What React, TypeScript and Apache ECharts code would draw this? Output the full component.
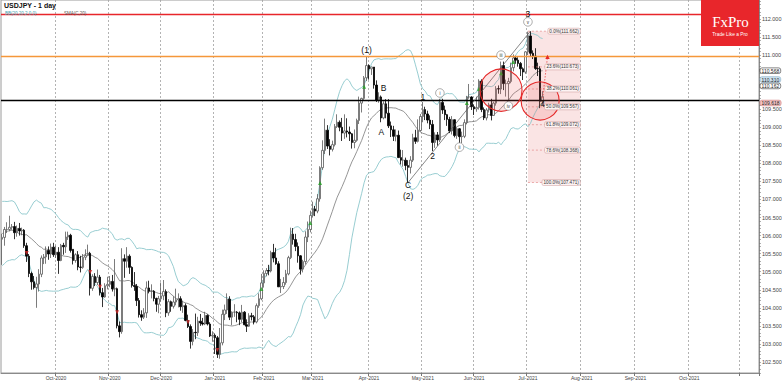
import React, { useEffect, useRef } from "react";
import * as echarts from "echarts";

// Daily bars: [open, high, low, close]
type Bar = [number, number, number, number];

const sep2020: Bar[] = [
  [105.9, 106.05, 105.19, 105.95], [105.95, 106.24, 105.72, 106.17], [106.17, 106.37, 106.07, 106.17],
  [106.17, 106.55, 106.12, 106.23], [106.23, 106.32, 106.16, 106.25], [106.25, 106.38, 105.9, 106.08],
  [106.08, 106.28, 105.97, 106.2], [106.2, 106.35, 106.0, 106.13], [106.13, 106.22, 106.01, 106.15],
  [106.15, 106.18, 105.66, 105.72], [105.72, 105.8, 105.27, 105.43], [105.43, 105.49, 104.85, 104.95],
  [104.95, 105.0, 104.5, 104.72], [104.72, 104.88, 104.51, 104.56], [104.56, 104.86, 104.0, 104.66],
  [104.66, 105.07, 104.45, 104.93], [104.93, 105.45, 104.85, 105.38], [105.38, 105.49, 105.21, 105.41],
  [105.41, 105.7, 105.22, 105.59], [105.59, 105.7, 105.33, 105.49], [105.49, 105.78, 105.38, 105.68],
  [105.68, 105.8, 105.41, 105.47],
];
const oct2020: Bar[] = [
  [105.47, 105.72, 105.38, 105.54], [105.54, 105.68, 104.94, 105.31], [105.31, 105.77, 105.29, 105.73],
  [105.73, 105.8, 105.47, 105.69], [105.69, 106.11, 105.52, 105.96], [105.96, 106.11, 105.88, 106.01],
  [106.01, 106.05, 105.53, 105.59], [105.62, 105.62, 105.2, 105.31], [105.31, 105.51, 105.25, 105.47],
  [105.47, 105.57, 105.04, 105.13], [105.13, 105.44, 104.98, 105.12], [105.12, 105.49, 105.08, 105.4],
  [105.4, 105.62, 105.32, 105.45], [105.45, 105.75, 105.43, 105.51], [105.51, 105.55, 104.34, 104.54],
  [104.54, 104.93, 104.47, 104.87], [104.87, 104.96, 104.6, 104.7], [104.7, 105.06, 104.63, 104.85],
  [104.85, 104.91, 104.34, 104.42], [104.42, 104.55, 104.02, 104.3], [104.3, 104.68, 104.28, 104.61],
  [104.61, 104.86, 104.51, 104.65],
];
const nov2020: Bar[] = [
  [104.65, 104.88, 104.57, 104.73], [104.73, 104.91, 104.45, 104.52], [104.52, 105.35, 104.32, 104.53],
  [104.53, 104.56, 103.43, 103.5], [103.5, 103.62, 103.18, 103.34], [103.34, 105.65, 103.28, 105.36],
  [105.36, 105.48, 104.83, 105.29], [105.29, 105.68, 105.11, 105.43], [105.43, 105.48, 104.94, 105.12],
  [105.12, 105.15, 104.56, 104.62], [104.62, 104.99, 104.47, 104.59], [104.59, 104.66, 104.05, 104.2],
  [104.2, 104.27, 103.73, 103.81], [103.81, 103.93, 103.64, 103.74], [103.74, 103.99, 103.69, 103.86],
  [103.86, 104.73, 103.72, 104.55], [104.55, 104.75, 104.4, 104.46], [104.46, 104.65, 104.26, 104.46],
  [104.46, 104.49, 104.18, 104.26], [104.26, 104.28, 103.89, 104.1], [104.1, 104.33, 103.85, 104.25],
];
const dec2020: Bar[] = [
  [104.25, 104.7, 104.17, 104.33], [104.33, 104.77, 104.21, 104.45], [104.45, 104.51, 103.74, 103.86],
  [103.86, 104.24, 103.78, 104.17], [104.17, 104.2, 103.89, 104.04], [104.04, 104.32, 103.98, 104.16],
  [104.16, 104.53, 104.07, 104.22], [104.22, 104.4, 104.01, 104.25], [104.25, 104.32, 103.92, 104.03],
  [104.03, 104.2, 103.86, 104.06], [104.06, 104.12, 103.63, 103.65], [103.65, 103.81, 103.44, 103.48],
  [103.48, 103.54, 102.87, 103.07], [103.07, 103.41, 102.96, 103.32], [103.32, 103.84, 103.13, 103.31],
  [103.31, 103.75, 103.22, 103.63], [103.63, 103.83, 103.5, 103.58], [103.58, 103.72, 103.51, 103.55],
  [103.55, 103.89, 103.52, 103.79], [103.79, 103.82, 103.51, 103.55], [103.55, 103.6, 103.19, 103.22],
  [103.22, 103.35, 103.06, 103.24],
];
const jan2021: Bar[] = [
  [103.24, 103.29, 102.72, 103.17], [103.17, 103.22, 102.61, 102.71], [102.71, 103.44, 102.59, 103.03],
  [103.03, 103.95, 102.96, 103.82], [103.82, 104.09, 103.66, 103.94], [103.94, 104.4, 103.83, 104.24],
  [104.24, 104.32, 103.66, 103.74], [103.74, 103.9, 103.52, 103.88], [103.88, 104.1, 103.75, 103.88],
  [103.88, 103.91, 103.6, 103.86], [103.86, 103.9, 103.52, 103.68], [103.68, 104.08, 103.6, 103.88],
  [103.88, 103.91, 103.52, 103.53], [103.53, 103.68, 103.33, 103.49], [103.49, 103.85, 103.47, 103.78],
  [103.78, 103.86, 103.65, 103.75], [103.75, 103.8, 103.54, 103.61], [103.61, 104.12, 103.57, 104.06],
  [104.06, 104.4, 104.0, 104.25], [104.25, 104.94, 104.21, 104.69],
];
const feb2021: Bar[] = [
  [104.69, 105.04, 104.56, 104.95], [104.95, 105.1, 104.87, 105.03], [105.03, 105.19, 104.9, 105.02],
  [105.02, 105.58, 104.98, 105.53], [105.53, 105.77, 105.26, 105.38], [105.38, 105.66, 105.19, 105.22],
  [105.22, 105.29, 104.59, 104.58], [104.58, 104.8, 104.41, 104.59], [104.59, 104.85, 104.52, 104.7],
  [104.7, 105.05, 104.64, 104.94], [104.94, 105.44, 104.9, 105.39], [105.39, 106.22, 105.35, 106.04],
  [106.04, 106.21, 105.75, 105.89], [105.89, 106.05, 105.57, 105.7], [105.7, 105.81, 105.25, 105.44],
  [105.44, 105.46, 104.92, 105.07], [105.07, 105.33, 104.98, 105.28], [105.28, 106.12, 105.2, 105.96],
  [105.96, 106.39, 105.82, 106.17], [106.17, 106.69, 106.09, 106.56],
];
const mar2021: Bar[] = [
  [106.56, 106.94, 106.5, 106.74], [106.74, 106.82, 106.54, 106.68], [106.68, 107.15, 106.62, 107.02],
  [107.02, 107.92, 106.94, 107.88], [107.88, 108.64, 107.82, 108.36], [108.36, 109.24, 108.26, 108.92],
  [108.92, 109.06, 108.4, 108.48], [108.48, 108.67, 108.22, 108.39], [108.39, 108.63, 108.33, 108.52],
  [108.52, 109.09, 108.47, 109.02], [109.02, 109.36, 108.98, 109.14], [109.14, 109.19, 108.89, 109.0],
  [109.0, 109.26, 108.62, 108.84], [108.84, 109.36, 108.68, 108.9], [108.9, 109.25, 108.72, 108.87],
  [108.87, 109.02, 108.62, 108.82], [108.82, 108.84, 108.41, 108.58], [108.58, 108.94, 108.42, 108.64],
  [108.64, 109.24, 108.6, 109.19], [109.19, 109.85, 109.09, 109.67], [109.67, 109.82, 109.41, 109.8],
  [109.8, 110.42, 109.76, 110.37], [110.37, 110.97, 110.28, 110.71],
];
const apr2021: Bar[] = [
  [110.71, 110.74, 110.32, 110.62], [110.62, 110.68, 110.45, 110.67], [110.67, 110.67, 110.07, 110.17],
  [110.17, 110.3, 109.7, 109.75], [109.75, 109.97, 109.68, 109.84], [109.84, 109.88, 109.14, 109.26],
  [109.26, 109.72, 109.22, 109.65], [109.65, 109.78, 109.25, 109.39], [109.39, 109.78, 108.98, 109.04],
  [109.04, 109.16, 108.73, 108.93], [108.93, 109.04, 108.62, 108.75], [108.75, 108.94, 108.61, 108.78],
  [108.78, 108.91, 108.15, 108.16], [108.16, 108.38, 107.97, 108.09], [108.09, 108.37, 107.91, 108.09],
  [108.09, 108.16, 107.81, 107.94], [107.94, 108.09, 107.48, 107.89], [107.89, 108.2, 107.72, 108.09],
  [108.09, 108.82, 108.04, 108.71], [108.71, 108.93, 108.54, 108.61], [108.61, 109.22, 108.58, 108.91],
  [108.91, 109.37, 108.88, 109.3],
];
const may2021: Bar[] = [
  [109.3, 109.7, 109.14, 109.49], [109.49, 109.57, 109.2, 109.37], [109.37, 109.46, 109.11, 109.2],
  [109.2, 109.33, 108.95, 109.08], [109.08, 109.2, 108.34, 108.58], [108.58, 108.86, 108.43, 108.79],
  [108.79, 108.87, 108.49, 108.65], [108.65, 109.79, 108.59, 109.69], [109.69, 109.79, 109.37, 109.48],
  [109.48, 109.6, 109.2, 109.35], [109.35, 109.37, 109.04, 109.22], [109.22, 109.29, 108.84, 108.9],
  [108.9, 109.31, 108.8, 109.21], [109.21, 109.22, 108.72, 108.77], [108.77, 109.0, 108.68, 108.96],
  [108.96, 108.98, 108.56, 108.74], [108.74, 108.88, 108.56, 108.75], [108.75, 109.22, 108.7, 109.13],
  [109.13, 109.87, 109.08, 109.84], [109.84, 110.2, 109.79, 109.84], [109.84, 109.86, 109.48, 109.57],
];
const jun2021: Bar[] = [
  [109.57, 109.63, 109.34, 109.51], [109.51, 109.85, 109.43, 109.55], [109.55, 110.33, 109.49, 110.28],
  [110.28, 110.33, 109.42, 109.49], [109.49, 109.55, 109.2, 109.26], [109.26, 109.53, 109.19, 109.48],
  [109.48, 109.68, 109.41, 109.62], [109.62, 109.79, 109.19, 109.33], [109.33, 109.71, 109.32, 109.67],
  [109.67, 110.14, 109.6, 110.07], [110.07, 110.16, 109.93, 110.06], [110.06, 110.82, 109.92, 110.71],
  [110.71, 110.82, 110.03, 110.21], [110.21, 110.32, 109.85, 110.21], [110.21, 110.37, 109.72, 110.27],
  [110.27, 110.79, 110.22, 110.65], [110.65, 111.02, 110.55, 110.92], [110.92, 110.98, 110.76, 110.86],
  [110.86, 110.94, 110.68, 110.77], [110.77, 110.81, 110.42, 110.62], [110.62, 110.66, 110.31, 110.53],
  [110.53, 111.11, 110.48, 111.09],
];
const jul2021: Bar[] = [
  [111.09, 111.65, 111.0, 111.53], [111.53, 111.66, 110.97, 111.05], [111.05, 111.13, 110.89, 110.97],
  [110.97, 111.19, 110.59, 110.63], [110.63, 110.79, 110.42, 110.62], [110.62, 110.69, 109.53, 109.72],
  [109.72, 110.0, 109.6, 109.85],
];

// Closes before the first visible bar (Aug 2020), needed for the 20-day bands
const warmupCloses = [
  105.56, 105.54, 105.92, 105.94, 106.49, 106.91, 106.91, 106.6, 105.98, 105.39,
  106.12, 105.8, 105.81, 105.96, 106.38, 106.04, 106.58, 105.37, 105.9,
];

const START_DATE = "2020-09-01";
const CATEGORY_COUNT = 310;
const CLOSED_DAYS = ["2020-12-25", "2021-01-01"];
const MONTH_NAMES = ["Jan", "Feb", "Mar", "Apr", "May", "Jun", "Jul", "Aug", "Sep", "Oct", "Nov", "Dec"];
const LAST_LABELLED_MONTH = "2021-10";

// tick labels shown on the price axis (110.500 / 110.000 are hidden by the price tags)
const yLabelValues = [102.5, 103, 103.5, 104, 104.5, 105, 105.5, 106, 106.5, 107, 107.5, 108, 108.5, 109, 109.5, 111, 111.5, 112];
const Y_MIN = 102.194;
const Y_MAX = 112.526;

const RED_LEVEL = 112.12;
const ORANGE_LEVEL = 110.97;
const BLACK_LEVEL = 109.76;

const FIB_HIGH = 111.662;
const FIB_LOW = 107.471;
const fibLevels = [0, 23.6, 38.2, 50, 61.8, 78.6, 100];

const priceTags = [
  { value: 110.568, bg: "#ffffff", border: "#333333", shift: 0 },
  { value: 110.31, bg: "#cfe4f2", border: "#7fa9c4", shift: -0.5 },
  { value: 110.162, bg: "#ffffff", border: "#333333", shift: 0.6 },
  { value: 109.618, bg: "#f3c4c4", border: "#c77", shift: -2 },
];

const buySignals: [string, number][] = [
  ["2021-01-29", 104.52], ["2021-02-26", 106.35], ["2021-03-04", 107.46], ["2021-03-30", 110.12],
  ["2021-05-27", 109.67], ["2021-06-03", 110.06], ["2021-06-16", 110.5], ["2021-06-23", 110.81],
];
const sellSignals: [string, number][] = [
  ["2020-09-15", 105.52], ["2020-10-21", 104.99], ["2020-10-27", 104.58],
  ["2020-11-05", 103.88], ["2020-12-16", 103.6], ["2021-01-05", 102.83],
];

const waveLabels: { text: string; date: string; price: number }[] = [
  { text: "(1)", date: "2021-03-31", price: 111.14 },
  { text: "B", date: "2021-04-09", price: 110.1 },
  { text: "A", date: "2021-04-08", price: 108.88 },
  { text: "C", date: "2021-04-23", price: 107.4 },
  { text: "(2)", date: "2021-04-23", price: 107.1 },
  { text: "1", date: "2021-05-03", price: 109.84 },
  { text: "2", date: "2021-05-07", price: 108.2 },
  { text: "3", date: "2021-07-01", price: 112.13 },
  { text: "4", date: "2021-07-09", price: 109.65 },
];
const circledLabels: { text: string; date: string; price: number }[] = [
  { text: "i", date: "2021-05-12", price: 109.95 },
  { text: "ii", date: "2021-05-24", price: 108.45 },
  { text: "iii", date: "2021-06-16", price: 111.0 },
  { text: "iv", date: "2021-06-21", price: 109.59 },
  { text: "v", date: "2021-07-01", price: 111.92 },
];
const zoneCircles: { date: string; price: number; r: number }[] = [
  { date: "2021-06-16", price: 110.03, r: 21 },
  { date: "2021-07-08", price: 109.73, r: 19 },
];

const FONT = '"Liberation Sans", "DejaVu Sans", sans-serif';

const categories: string[] = (() => {
  const out: string[] = [];
  const d = new Date(START_DATE + "T00:00:00Z");
  while (out.length < CATEGORY_COUNT) {
    const wd = d.getUTCDay();
    const iso = d.toISOString().slice(0, 10);
    if (wd !== 0 && wd !== 6 && !CLOSED_DAYS.includes(iso)) out.push(iso);
    d.setUTCDate(d.getUTCDate() + 1);
  }
  return out;
})();

const isMonthStart = (i: number) => i > 0 && categories[i].slice(0, 7) !== categories[i - 1].slice(0, 7);
const isLabelledMonth = (i: number) => isMonthStart(i) && categories[i].slice(0, 7) <= LAST_LABELLED_MONTH;

const bars: Bar[] = [
  ...sep2020, ...oct2020, ...nov2020, ...dec2020, ...jan2021, ...feb2021,
  ...mar2021, ...apr2021, ...may2021, ...jun2021, ...jul2021,
];

function bands() {
  const closes = [...warmupCloses, ...bars.map((b) => b[3])];
  const mid: number[] = [], up: number[] = [], lo: number[] = [];
  const off = warmupCloses.length;
  for (let i = 0; i < bars.length; i++) {
    const win = closes.slice(i + off - 19, i + off + 1);
    const m = win.reduce((a, b) => a + b, 0) / win.length;
    const sd = Math.sqrt(win.reduce((a, b) => a + (b - m) * (b - m), 0) / win.length);
    mid.push(+m.toFixed(4));
    up.push(+(m + 2 * sd).toFixed(4));
    lo.push(+(m - 2 * sd).toFixed(4));
  }
  return { mid, up, lo };
}

function buildOption() {
  const { mid, up, lo } = bands();
  const minorTicks: number[] = [];
  for (let v = 1022; v <= 1125; v++) minorTicks.push(v / 10);
  return {
    animation: false,
    backgroundColor: "#ffffff",
    grid: { left: 1, right: 23, top: 0, bottom: 9, show: true, borderColor: "#9a9a9a", borderWidth: 1, containLabel: false, outerBoundsMode: "none" },
    xAxis: {
      type: "category",
      data: categories,
      boundaryGap: true,
      axisLine: { show: true, lineStyle: { color: "#8a8a8a", width: 1 } },
      axisTick: { show: true, interval: (i: number) => isMonthStart(i), length: 3, lineStyle: { color: "#777" } },
      axisLabel: {
        interval: (i: number) => isLabelledMonth(i),
        formatter: (v: string) => `${MONTH_NAMES[+v.slice(5, 7) - 1]}-${v.slice(0, 4)}`,
        fontSize: 5, color: "#444", margin: 2, fontFamily: FONT,
      },
      splitLine: { show: true, interval: (i: number) => isMonthStart(i), lineStyle: { color: "#a0a0a0", type: [2, 2], width: 0.8 } },
    },
    yAxis: {
      type: "value",
      position: "right",
      min: Y_MIN,
      max: Y_MAX,
      splitLine: { show: false },
      axisLine: { show: true, lineStyle: { color: "#8a8a8a" } },
      axisTick: { show: true, customValues: minorTicks, length: 2, lineStyle: { color: "#777", width: 0.6 } },
      axisLabel: {
        customValues: yLabelValues,
        formatter: (v: number) => v.toFixed(3),
        fontSize: 5.5, color: "#444", margin: 3, fontFamily: FONT,
      },
    },
    series: [
      { type: "line", data: up, showSymbol: false, symbol: "none", silent: true, lineStyle: { color: "#8cc7cc", width: 0.9 }, z: 1 },
      { type: "line", data: lo, showSymbol: false, symbol: "none", silent: true, lineStyle: { color: "#8cc7cc", width: 0.9 }, z: 1 },
      { type: "line", data: mid, showSymbol: false, symbol: "none", silent: true, lineStyle: { color: "#7a7a7a", width: 0.8 }, z: 1 },
      {
        type: "candlestick",
        data: bars.map(([o, h, l, c]) => [o, c, l, h]),
        barWidth: 2,
        itemStyle: { color: "#ffffff", color0: "#000000", borderColor: "#5a5a5a", borderColor0: "#000000", borderWidth: 0.8 },
        z: 3,
        markLine: {
          silent: true,
          symbol: ["none", "none"],
          label: { show: false },
          data: [
            { yAxis: RED_LEVEL, lineStyle: { color: "#e8262b", width: 1.4, type: "solid" } },
            { yAxis: ORANGE_LEVEL, lineStyle: { color: "#f5973a", width: 1.4, type: "solid" } },
            { yAxis: BLACK_LEVEL, lineStyle: { color: "#000000", width: 1.4, type: "solid" } },
          ],
        },
      },
      { type: "scatter", data: buySignals, symbol: "triangle", symbolSize: 4, itemStyle: { color: "#22a322" }, z: 4, silent: true },
      { type: "scatter", data: sellSignals, symbol: "triangle", symbolRotate: 180, symbolSize: 4, itemStyle: { color: "#d42a2a" }, z: 4, silent: true },
    ],
  };
}

const measureCtx = typeof document !== "undefined" ? document.createElement("canvas").getContext("2d") : null;
function measure(text: string, font: string) {
  if (!measureCtx) return text.length * 3;
  measureCtx.font = font;
  return measureCtx.measureText(text).width;
}

function buildGraphics(chart: any) {
  const els: any[] = [];
  const P = (date: string, price: number) =>
    chart.convertToPixel({ xAxisIndex: 0, yAxisIndex: 0 }, [categories.indexOf(date), price]) as number[];
  const txt = (t: string, x: number, y: number, font: string, fill: string, align = "center", valign = "middle", z = 60) => ({
    type: "text", x, y, z, silent: true,
    style: { text: t, font, fill, textAlign: align, textVerticalAlign: valign },
  });

  // Fibonacci retracement zone
  const xL = P("2021-07-01", FIB_HIGH)[0];
  const xR = P("2021-07-30", FIB_HIGH)[0] + 1;
  const yTop = P("2021-07-01", FIB_HIGH)[1];
  const yBot = P("2021-07-01", FIB_LOW)[1];
  els.push({ type: "rect", z: 0, silent: true, shape: { x: xL, y: yTop, width: xR - xL, height: yBot - yTop }, style: { fill: "rgba(232,120,120,0.2)" } });
  const fibFont = `4.6px ${FONT}`;
  fibLevels.forEach((pct) => {
    const price = FIB_HIGH - (pct / 100) * (FIB_HIGH - FIB_LOW);
    const y = P("2021-07-01", price)[1];
    els.push({ type: "line", z: 5, silent: true, shape: { x1: xL, y1: y, x2: xR, y2: y }, style: { stroke: "#e07a7a", lineWidth: 0.6, lineDash: [2, 2] } });
    const label = `${pct.toFixed(1)}%(${price.toFixed(3)})`;
    const w = measure(label, fibFont) + 3;
    els.push({ type: "rect", z: 55, silent: true, shape: { x: xR - w, y: y - 3, width: w, height: 6, r: 1.5 }, style: { fill: "#fdf3f3", stroke: "#c99", lineWidth: 0.5 } });
    els.push(txt(label, xR - 1.5, y, fibFont, "#333", "right", "middle", 56));
  });
  const a = P("2021-04-23", FIB_LOW);
  const b = P("2021-07-02", FIB_HIGH);
  els.push({ type: "line", z: 5, silent: true, shape: { x1: a[0], y1: a[1], x2: b[0], y2: b[1] }, style: { stroke: "#555", lineWidth: 0.7 } });

  // highlighted zones
  zoneCircles.forEach((c) => {
    const p = P(c.date, c.price);
    els.push({ type: "circle", z: 6, silent: true, shape: { cx: p[0], cy: p[1], r: c.r }, style: { fill: "rgba(240,90,90,0.17)", stroke: "#e52a2a", lineWidth: 1.1 } });
  });

  // projection arrow
  const p1 = P("2021-07-09", 109.8);
  const p2 = P("2021-07-13", 110.95);
  els.push({ type: "line", z: 7, silent: true, shape: { x1: p1[0], y1: p1[1], x2: p2[0], y2: p2[1] }, style: { stroke: "#e52a2a", lineWidth: 0.7, lineDash: [1.5, 1.5] } });
  els.push({ type: "polygon", z: 7, silent: true, shape: { points: [[p2[0] - 2.2, p2[1] + 2], [p2[0] + 2.2, p2[1] + 2], [p2[0], p2[1] - 2.2]] }, style: { fill: "#e52a2a" } });

  // wave labels
  waveLabels.forEach((l) => {
    const p = P(l.date, l.price);
    els.push(txt(l.text, p[0], p[1], `8.5px ${FONT}`, "#111", "center", "middle", 60));
  });
  circledLabels.forEach((l) => {
    const p = P(l.date, l.price);
    els.push({ type: "circle", z: 60, silent: true, shape: { cx: p[0], cy: p[1], r: 4.3 }, style: { fill: "#ffffff", stroke: "#777", lineWidth: 0.6 } });
    els.push(txt(l.text, p[0], p[1] + 0.2, `4.5px ${FONT}`, "#333", "center", "middle", 61));
  });

  // price tags on the right axis
  const tagFont = `5px ${FONT}`;
  priceTags.forEach((t) => {
    const y = P("2021-07-01", t.value)[1] + t.shift;
    const label = t.value.toFixed(3);
    const w = measure(label, tagFont) + 3;
    els.push({ type: "rect", z: 70, silent: true, shape: { x: 760, y: y - 2.8, width: w, height: 5.6, r: 2 }, style: { fill: t.bg, stroke: t.border, lineWidth: 0.6 } });
    els.push(txt(label, 761.5, y, tagFont, "#222", "left", "middle", 71));
  });

  // titles
  els.push(txt("USDJPY - 1 day", 4, 2, `bold 7px ${FONT}`, "#111", "left", "top", 80));
  els.push(txt("BB(20,20,2,0,0)", 5, 13, `4.5px ${FONT}`, "#3a9fb0", "left", "middle", 80));
  els.push(txt("SMA(C,20)", 64, 13, `4.5px ${FONT}`, "#555", "left", "middle", 80));

  // logo
  els.push({ type: "rect", z: 90, silent: true, shape: { x: 701, y: 0, width: 58, height: 46 }, style: { fill: "#e8262b" } });
  els.push(txt("FxPro", 730.5, 22, `15px "Liberation Serif", "DejaVu Serif", serif`, "#ffffff", "center", "middle", 91));
  els.push(txt("Trade Like a Pro", 730, 34, `4.8px ${FONT}`, "#ffffff", "center", "middle", 91));

  return els;
}

export default function App() {
  const ref = useRef<HTMLDivElement>(null);
  useEffect(() => {
    if (!ref.current) return;
    const chart = echarts.init(ref.current, undefined, { renderer: "svg" });
    chart.setOption(buildOption() as any);
    chart.setOption({ graphic: { elements: buildGraphics(chart) } } as any);
    return () => chart.dispose();
  }, []);
  return <div ref={ref} style={{ position: "fixed", left: 0, top: 0, width: 782, height: 382, background: "#fff" }} />;
}
